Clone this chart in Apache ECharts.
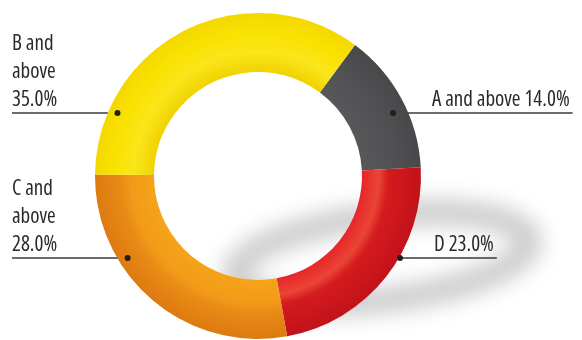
<!DOCTYPE html>
<html>
<head>
<meta charset="utf-8">
<script src="https://cdn.jsdelivr.net/npm/echarts@6/dist/echarts.min.js"></script>
<style>
  html, body { margin: 0; padding: 0; background: #ffffff; }
  #chart { width: 582px; height: 340px; }
</style>
</head>
<body>
<div id="chart"></div>
<script>
// ---- data ----
const categories = ['A and above', 'D', 'C and above', 'B and above'];
const values = [14.0, 23.0, 28.0, 35.0];

// ---- layout / style ----
const CX = 258, CY = 176, R_IN = 104, R_OUT = 163;
const labelSide = ['right', 'right', 'left', 'left'];
const labelX = [432, 434, 12, 12];
const labelLineY = [113, 258, 258, 113];
const dotRadius = [149, 164, 154, 154];
const FONT = "'Open Sans', 'DejaVu Sans Condensed', sans-serif";

function radial(stops) {
  return {
    type: 'radial', x: CX, y: CY, r: R_OUT, global: true,
    colorStops: stops.map(s => ({ offset: s[0], color: s[1] }))
  };
}
const f0 = R_IN / R_OUT;
const sliceColors = [
  radial([[0, '#58585a'], [f0, '#58585a'], [0.85, '#505052'], [1, '#48484a']]),
  radial([[0, '#e6262a'], [f0, '#e6262a'], [0.74, '#ea4536'], [0.8, '#d41b1e'], [1, '#c2121a']]),
  radial([[0, '#f5a419'], [f0, '#f5a419'], [0.78, '#f29a1a'], [0.84, '#e98b15'], [1, '#dd7a11']]),
  radial([[0, '#f0d200'], [f0, '#f0d200'], [0.76, '#fae61c'], [0.88, '#f9e200'], [1, '#f4d800']])
];

function dotX(i) {
  const dy = labelLineY[i] - CY;
  const dx = Math.sqrt(dotRadius[i] * dotRadius[i] - dy * dy);
  return labelSide[i] === 'right' ? CX + dx : CX - dx;
}

const pieData = categories.map((c, i) => ({
  name: c, value: values[i], itemStyle: { color: sliceColors[i] }
}));

const chart = echarts.init(document.getElementById('chart'), null, { renderer: 'canvas' });

const dots = categories.map((c, i) => ({
  type: 'circle', z: 100,
  shape: { cx: dotX(i), cy: labelLineY[i], r: 3 },
  style: { fill: '#1e1e1e' }
}));

const SHIFT = 2000;
chart.setOption({
  backgroundColor: '#ffffff',
  animation: false,
  graphic: [
    {
      type: 'ellipse', z: -10, silent: true,
      x: 382 - SHIFT, y: 258, rotation: 0.12,
      shape: { cx: 0, cy: 0, rx: 148, ry: 42 },
      style: {
        fill: 'none', stroke: '#000', lineWidth: 24,
        shadowBlur: 22, shadowColor: 'rgba(0,0,0,0.22)',
        shadowOffsetX: SHIFT, shadowOffsetY: 0
      }
    }
  ].concat(dots),
  series: [{
    type: 'pie',
    silent: true,
    center: [CX, CY],
    radius: [R_IN, R_OUT],
    startAngle: 53.5,
    clockwise: true,
    avoidLabelOverlap: false,
    data: pieData,
    label: {
      show: true,
      position: 'outside',
      color: '#2a2a2a',
      fontFamily: FONT,
      fontWeight: 'condensed',
      fontSize: 21,
      lineHeight: 28,
      formatter: function (p) {
        const i = p.dataIndex;
        const v = values[i].toFixed(1) + '%';
        if (labelSide[i] === 'left') {
          return categories[i].replace(' above', '\nabove') + '\n' + v;
        }
        return categories[i] + ' ' + v;
      }
    },
    labelLine: {
      show: true,
      lineStyle: { color: '#3a3a3a', width: 1.5 }
    },
    labelLayout: function (params) {
      const i = params.dataIndex;
      const y = labelLineY[i];
      const dx = dotX(i);
      const w = params.labelRect.width;
      let pts;
      if (labelSide[i] === 'right') {
        pts = [[dx, y], [dx, y], [labelX[i] + w + 3, y]];
      } else {
        pts = [[dx, y], [dx, y], [labelX[i], y]];
      }
      return {
        x: labelX[i], y: y + 1.5,
        align: 'left', verticalAlign: 'bottom',
        labelLinePoints: pts
      };
    }
  }]
});
</script>
</body>
</html>
